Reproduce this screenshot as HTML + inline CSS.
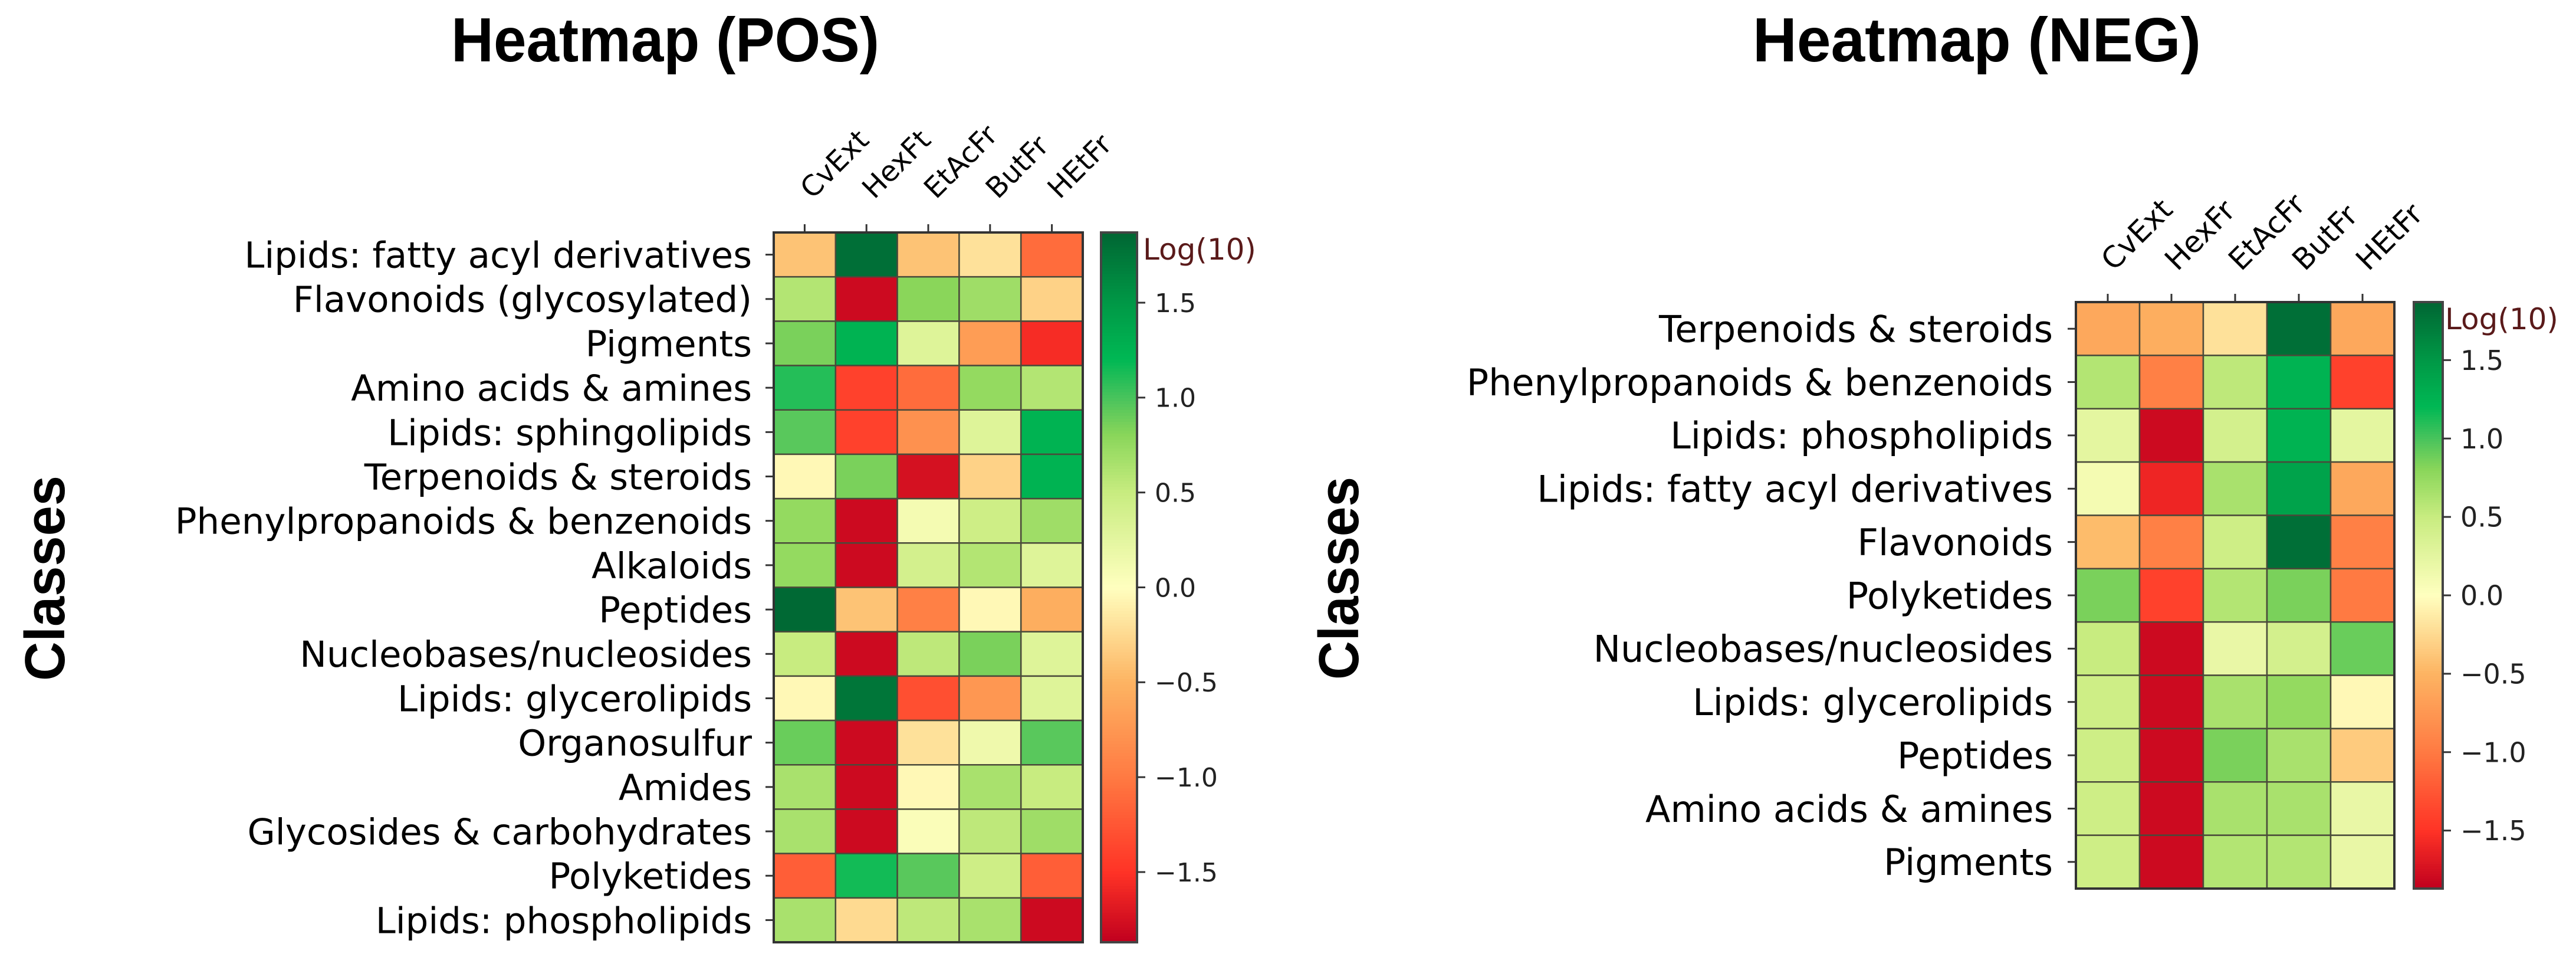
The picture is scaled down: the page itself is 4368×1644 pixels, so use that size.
<!DOCTYPE html>
<html><head><meta charset="utf-8"><style>
html,body{margin:0;padding:0;background:#fff;width:4368px;height:1644px;overflow:hidden}
svg text{font-family:"DejaVu Sans","Liberation Sans",sans-serif}
</style></head><body>
<svg id="chart" width="4368" height="1644" viewBox="0 0 4368 1644" xmlns="http://www.w3.org/2000/svg">
<text x="765" y="104" font-size="106" font-weight="bold" style="font-family:'Liberation Sans',sans-serif" textLength="726" lengthAdjust="spacingAndGlyphs">Heatmap (POS)</text>
<text x="2972" y="104" font-size="106" font-weight="bold" style="font-family:'Liberation Sans',sans-serif" textLength="760" lengthAdjust="spacingAndGlyphs">Heatmap (NEG)</text>
<text x="0" y="0" font-size="96" font-weight="bold" text-anchor="middle" style="font-family:'Liberation Sans',sans-serif" textLength="348" lengthAdjust="spacingAndGlyphs" transform="translate(109,980) rotate(-90)">Classes</text>
<text x="0" y="0" font-size="96" font-weight="bold" text-anchor="middle" style="font-family:'Liberation Sans',sans-serif" textLength="344" lengthAdjust="spacingAndGlyphs" transform="translate(2303,980) rotate(-90)">Classes</text>
<g id="pos"></g>
<g id="neg"></g>
</svg>
<script>
const posRows = ["Lipids: fatty acyl derivatives","Flavonoids (glycosylated)","Pigments","Amino acids & amines","Lipids: sphingolipids","Terpenoids & steroids","Phenylpropanoids & benzenoids","Alkaloids","Peptides","Nucleobases/nucleosides","Lipids: glycerolipids","Organosulfur","Amides","Glycosides & carbohydrates","Polyketides","Lipids: phospholipids"];
const posCols = ["CvExt","HexFt","EtAcFr","ButFr","HEtFr"];
const posValues = [
[-0.4,1.8,-0.4,-0.2,-1.1],
[0.6,-1.8,0.8,0.7,-0.3],
[0.85,1.25,0.3,-0.7,-1.55],
[1.1,-1.4,-1.1,0.75,0.6],
[0.95,-1.4,-0.8,0.3,1.25],
[-0.05,0.85,-1.75,-0.3,1.25],
[0.75,-1.8,0.1,0.45,0.7],
[0.75,-1.8,0.4,0.6,0.3],
[1.85,-0.4,-0.95,-0.05,-0.55],
[0.5,-1.8,0.55,0.85,0.3],
[-0.05,1.75,-1.3,-0.75,0.3],
[0.9,-1.8,-0.2,0.15,0.95],
[0.65,-1.8,-0.05,0.65,0.5],
[0.65,-1.8,0.05,0.55,0.7],
[-1.2,1.15,0.95,0.45,-1.2],
[0.65,-0.25,0.55,0.65,-1.8]];
const negRows = ["Terpenoids & steroids","Phenylpropanoids & benzenoids","Lipids: phospholipids","Lipids: fatty acyl derivatives","Flavonoids","Polyketides","Nucleobases/nucleosides","Lipids: glycerolipids","Peptides","Amino acids & amines","Pigments"];
const negCols = ["CvExt","HexFr","EtAcFr","ButFr","HEtFr"];
const negValues = [
[-0.6,-0.55,-0.2,1.8,-0.6],
[0.6,-0.95,0.55,1.25,-1.4],
[0.25,-1.8,0.4,1.25,0.25],
[0.1,-1.6,0.65,1.4,-0.6],
[-0.45,-0.95,0.45,1.8,-0.95],
[0.85,-1.4,0.6,0.85,-1.0],
[0.5,-1.8,0.2,0.4,0.9],
[0.45,-1.8,0.65,0.75,-0.05],
[0.45,-1.8,0.85,0.65,-0.35],
[0.45,-1.8,0.65,0.65,0.2],
[0.45,-1.8,0.6,0.6,0.2]];
const cbTicks = [1.5,1.0,0.5,0.0,-0.5,-1.0,-1.5];
const cbTickLabels = ["1.5","1.0","0.5","0.0","\u22120.5","\u22121.0","\u22121.5"];

const VMIN=-1.87,VMAX=1.87;
const cstops=[[-1.87,"#c0001e"],[-1.5,"#ff3326"],[-1.0,"#ff7a42"],[-0.5,"#fdb462"],[0,"#ffffbf"],[0.5,"#c8ec80"],[0.8,"#8ad65a"],[1.0,"#48c35c"],[1.2,"#00b854"],[1.5,"#009846"],[1.87,"#006633"]];
function hex(h){return [1,3,5].map(i=>parseInt(h.substr(i,2),16));}
function cmap(v){v=Math.max(VMIN,Math.min(VMAX,v));let i=0;while(i<cstops.length-2&&v>cstops[i+1][0])i++;const [v0,c0]=cstops[i],[v1,c1]=cstops[i+1];const f=(v-v0)/(v1-v0);const a=hex(c0),b=hex(c1);return "rgb("+a.map((c,k)=>Math.round(c+(b[k]-c)*f)).join(",")+")";}
const NS="http://www.w3.org/2000/svg";
function mk(tag,attrs,parent){const e=document.createElementNS(NS,tag);for(const k in attrs)e.setAttribute(k,attrs[k]);parent.appendChild(e);return e;}

function draw(g,prefix,rows,cols,vals,L,T,R,B,cbL,cbR,fs,labelGap,colFs,colDx,colDy,tickFs,logDx){
  const cw=(R-L)/cols.length, rh=(B-T)/rows.length;
  const xs=j=>L+j*cw, ys=i=>T+i*rh;
  vals.forEach((row,i)=>row.forEach((v,j)=>{
    const r=mk("rect",{x:xs(j),y:ys(i),width:cw,height:rh,fill:cmap(v),stroke:"#4a4a3a","stroke-width":2.5},g);
    
    
  }));
  const fr=mk("rect",{x:L,y:T,width:R-L,height:B-T,fill:"none",stroke:"#333","stroke-width":4},g);
  
  
  rows.forEach((name,i)=>{
    const cy=ys(i)+rh/2;
    mk("line",{x1:L-14,y1:cy,x2:L,y2:cy,stroke:"#333","stroke-width":3},g);
    const t=mk("text",{x:L-labelGap,y:cy+fs*0.36,"font-size":fs,"text-anchor":"end",fill:"#000"},g);
    t.textContent=name;
    
    
  });
  cols.forEach((name,j)=>{
    const cx=xs(j)+cw/2;
    mk("line",{x1:cx,y1:T-14,x2:cx,y2:T,stroke:"#333","stroke-width":3},g);
    const t=mk("text",{x:0,y:0,"font-size":colFs,transform:"translate("+(cx+colDx)+","+(T-colDy)+") rotate(-45)",fill:"#000"},g);
    t.textContent=name;
    
    
  });
  const n=240, h=(B-T)/n;
  for(let k=0;k<n;k++){
    const v=VMAX-(k+0.5)*(VMAX-VMIN)/n;
    mk("rect",{x:cbL,y:T+k*h,width:cbR-cbL,height:h+0.8,fill:cmap(v)},g);
  }
  const cb=mk("rect",{x:cbL,y:T,width:cbR-cbL,height:B-T,fill:"none",stroke:"#444","stroke-width":4},g);
  
  
  const cy=v=>T+(VMAX-v)/(VMAX-VMIN)*(B-T);
  cbTicks.forEach((v,k)=>{
    mk("line",{x1:cbR,y1:cy(v),x2:cbR+14,y2:cy(v),stroke:"#333","stroke-width":3},g);
    const t=mk("text",{x:cbR+30,y:cy(v)+tickFs*0.36,"font-size":tickFs,fill:"#222"},g);
    t.textContent=cbTickLabels[k];
    
    
  });
  const lg=mk("text",{x:cbR+logDx,y:T+46,"font-size":50,fill:"#5a1a1a"},g);
  lg.textContent="Log(10)";
  
  
}
draw(document.getElementById("pos"),"pos",posRows,posCols,posValues,1312,394,1836,1597,1867,1928,61,37,48,13,55,44,10);
draw(document.getElementById("neg"),"neg",negRows,negCols,negValues,3520,512,4060,1506,4093,4142,62,39,50,10,51,46,4);
</script>
</body></html>
